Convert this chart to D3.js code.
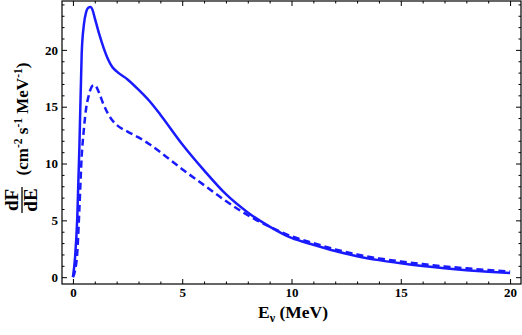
<!DOCTYPE html>
<html>
<head>
<meta charset="utf-8">
<script src="https://cdn.jsdelivr.net/npm/d3@7"></script>
<style>
  body { margin: 0; background: #fff; }
  svg { display: block; }
  text { font-family: "Liberation Serif", "Times New Roman", serif; font-weight: bold; }
  .axis path { display: none; }
  .axis line { stroke: #000; stroke-width: 1; }
  .axis text { font-size: 13px; fill: #000; }
</style>
</head>
<body>
<div id="graph"></div>
<script>
// neutrino energy grid (MeV)
var energy = [0, 0.1, 0.2, 0.3, 0.4, 0.5, 0.6, 0.7, 0.8, 0.9, 1.0, 1.2, 1.4, 1.6, 1.8, 2.0, 2.5, 3.0, 3.5, 4.0,
              5, 6, 7, 8, 9, 10, 11, 12, 13, 14, 15, 16, 17, 18, 19, 20];
// solid curve
var fluxSolid = [0, 1.8, 5.3, 11.8, 19.6, 22.2, 23.3, 23.7, 23.77, 23.5, 22.8, 21.4, 20.2, 19.2, 18.5, 18.1, 17.4, 16.5, 15.5, 14.3,
                 11.7, 9.4, 7.3, 5.7, 4.45, 3.45, 2.85, 2.3, 1.85, 1.5, 1.22, 0.98, 0.78, 0.61, 0.47, 0.36];
// dashed curve
var fluxDashed = [0, 0.6, 2.2, 6.2, 10.6, 13.0, 14.8, 15.8, 16.5, 16.85, 16.9, 16.2, 15.2, 14.4, 13.8, 13.4, 12.8, 12.3, 11.7, 11.0,
                  9.5, 8.1, 6.7, 5.45, 4.45, 3.6, 3.0, 2.45, 2.0, 1.65, 1.38, 1.15, 0.95, 0.78, 0.63, 0.5];

var xMajor = [0, 5, 10, 15, 20];
var yMajor = [0, 5, 10, 15, 20];

var W = 522, H = 335;
var m = {left: 62, right: 521, top: 1, bottom: 284}; // frame edges

var x = d3.scaleLinear().domain([-0.5, 20.5]).range([m.left, m.right]);
var y = d3.scaleLinear().domain([-0.6, 24.3]).range([m.bottom, m.top]);

var svg = d3.select("#graph").append("svg")
  .attr("width", W)
  .attr("height", H);

var xMinor = d3.range(0, 21, 1).filter(function(d) { return d % 5 != 0; });
var yMinor = d3.range(0, 25, 1).filter(function(d) { return d % 5 != 0; });

// frame ticks, all pointing inward
function addAxis(axisFn, scale, transform, values, size, labels) {
  var ax = axisFn(scale).tickValues(values).tickSize(-size).tickPadding(4);
  if (!labels) ax.tickFormat("");
  svg.append("g").attr("class", "axis").attr("transform", transform).call(ax);
}
addAxis(d3.axisBottom, x, "translate(0," + m.bottom + ")", xMajor, 5, true);
addAxis(d3.axisBottom, x, "translate(0," + m.bottom + ")", xMinor, 2.5, false);
addAxis(d3.axisTop, x, "translate(0," + m.top + ")", xMajor, 5, false);
addAxis(d3.axisTop, x, "translate(0," + m.top + ")", xMinor, 2.5, false);
addAxis(d3.axisLeft, y, "translate(" + m.left + ",0)", yMajor, 5, true);
addAxis(d3.axisLeft, y, "translate(" + m.left + ",0)", yMinor, 2.5, false);
addAxis(d3.axisRight, y, "translate(" + m.right + ",0)", yMajor, 5, false);
addAxis(d3.axisRight, y, "translate(" + m.right + ",0)", yMinor, 2.5, false);

svg.append("rect")
  .attr("x", m.left).attr("y", m.top)
  .attr("width", m.right - m.left).attr("height", m.bottom - m.top)
  .attr("fill", "none").attr("stroke", "#000").attr("stroke-width", 1.2);

var line = d3.line()
  .curve(d3.curveMonotoneX)
  .x(function(d) { return x(d[0]); })
  .y(function(d) { return y(d[1]); });

svg.append("path")
  .attr("d", line(energy.map(function(e, i) { return [e, fluxDashed[i]]; })))
  .attr("fill", "none").attr("stroke", "#1a1aff").attr("stroke-width", 2.5)
  .attr("stroke-dasharray", "7,4");

svg.append("path")
  .attr("d", line(energy.map(function(e, i) { return [e, fluxSolid[i]]; })))
  .attr("fill", "none").attr("stroke", "#1a1aff").attr("stroke-width", 2.5);

// x title
var xt = svg.append("text")
  .attr("x", 293).attr("y", 318)
  .attr("text-anchor", "middle")
  .style("font-size", "17.5px");
xt.append("tspan").text("E");
xt.append("tspan").attr("dy", 4).style("font-size", "12px").text("ν");
xt.append("tspan").attr("dy", -4).text(" (MeV)");

// y title: fraction dF/dE plus units
var yl = svg.append("g").attr("transform", "translate(22,0) rotate(-90)");
yl.append("text").attr("x", -200).attr("y", -4).attr("text-anchor", "middle")
  .style("font-size", "19px").text("dF");
yl.append("line").attr("x1", -213).attr("x2", -187).attr("y1", 0).attr("y2", 0)
  .attr("stroke", "#000").attr("stroke-width", 1.3);
yl.append("text").attr("x", -200).attr("y", 15).attr("text-anchor", "middle")
  .style("font-size", "19px").text("dE");

var ut = yl.append("text").attr("x", -119).attr("y", 6).attr("text-anchor", "middle")
  .style("font-size", "17px");
ut.append("tspan").text("(cm");
ut.append("tspan").attr("dy", -6).style("font-size", "11.5px").text("-2");
ut.append("tspan").attr("dy", 6).text(" s");
ut.append("tspan").attr("dy", -6).style("font-size", "11.5px").text("-1");
ut.append("tspan").attr("dy", 6).text(" MeV");
ut.append("tspan").attr("dy", -6).style("font-size", "11.5px").text("-1");
ut.append("tspan").attr("dy", 6).text(")");
</script>
</body>
</html>
